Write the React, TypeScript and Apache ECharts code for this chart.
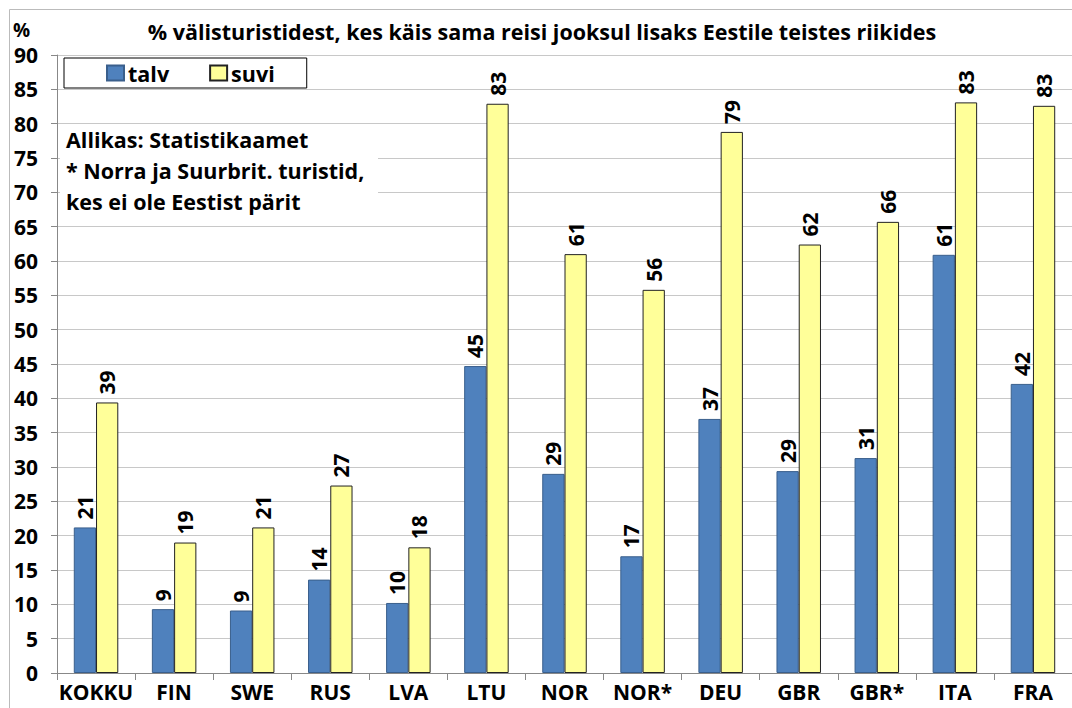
import React, { useEffect, useRef } from "react";
import * as echarts from "echarts";

const categories = ["KOKKU", "FIN", "SWE", "RUS", "LVA", "LTU", "NOR", "NOR*", "DEU", "GBR", "GBR*", "ITA", "FRA"];
const talv = [21.2, 9.3, 9.1, 13.6, 10.2, 44.7, 29.0, 17.0, 37.0, 29.4, 31.3, 60.9, 42.1];
const suvi = [39.4, 19.0, 21.2, 27.3, 18.3, 82.9, 61.0, 55.8, 78.8, 62.4, 65.7, 83.1, 82.6];
const seriesNames = ["talv", "suvi"];
const titleText = "% välisturistidest, kes käis sama reisi jooksul lisaks Eestile teistes riikides";
const noteLines = ["Allikas: Statistikaamet", "* Norra ja Suurbrit. turistid,", "kes ei ole Eestist pärit"];

const FONT = "Open Sans";

export default function App() {
  const ref = useRef<HTMLDivElement>(null);
  useEffect(() => {
    if (!ref.current) return;
    const chart = echarts.init(ref.current, null, { renderer: "svg" });
    const labelCfg = {
      show: true,
      position: "top",
      rotate: 90,
      align: "left",
      verticalAlign: "middle",
      distance: 8,
      color: "#000",
      fontFamily: FONT,
      fontWeight: "bold",
      fontSize: 21,
      formatter: (p: any) => String(Math.round(p.value)),
    };
    chart.setOption({
      animation: false,
      backgroundColor: "#fff",
      textStyle: { fontFamily: FONT },
      title: {
        text: titleText,
        left: 537,
        textAlign: "center",
        top: 15,
        textStyle: { fontFamily: FONT, fontWeight: "bold", fontSize: 21.5, color: "#000" },
      },
      legend: {
        left: 64,
        top: 58,
        data: seriesNames,
        icon: "rect",
        itemWidth: 17,
        itemHeight: 15,
        itemGap: 40,
        padding: [3, 32, 3, 42],
        backgroundColor: "#fff",
        borderColor: "#000",
        borderWidth: 1,
        borderRadius: 0,
        textStyle: { fontFamily: FONT, fontWeight: "bold", fontSize: 21.5, color: "#000", padding: [0, 0, 0, -1], lineHeight: 24 },
      },
      grid: { left: 57, top: 55, width: 1027, height: 618, containLabel: false },
      xAxis: {
        type: "category",
        data: categories,
        axisLine: { show: true, lineStyle: { color: "#888", width: 1 } },
        axisTick: { show: true, length: 7, lineStyle: { color: "#888" } },
        axisLabel: { interval: 0, color: "#000", fontFamily: FONT, fontWeight: "bold", fontSize: 21, lineHeight: 21, margin: 8 },
        splitLine: { show: false },
      },
      yAxis: {
        type: "value",
        min: 0,
        max: 90,
        interval: 5,
        axisLine: { show: true, lineStyle: { color: "#888", width: 1 } },
        axisTick: { show: true, length: 6, lineStyle: { color: "#888" } },
        axisLabel: { color: "#000", fontFamily: FONT, fontWeight: "bold", fontSize: 21, margin: 19 },
        splitLine: { show: true, lineStyle: { color: "#c8c8c8", width: 1 } },
      },
      graphic: [
        { type: "rect", shape: { x: 9.5, y: 9.5, width: 1080, height: 720 }, style: { fill: "none", stroke: "#bbb", lineWidth: 1 }, silent: true },
        { type: "text", x: 13, y: 20, style: { text: "%", fontFamily: FONT, fontWeight: "bold", fontSize: 19, fill: "#000" } },
        { type: "rect", shape: { x: 60, y: 127, width: 318, height: 96 }, style: { fill: "#fff" }, z: 10 },
        ...noteLines.map((t, i) => ({
          type: "text",
          x: 66,
          y: 128 + i * 31,
          z: 11,
          style: { text: t, fontFamily: FONT, fontWeight: "bold", fontSize: 21.5, fill: "#000" },
        })),
      ],
      series: [
        {
          name: seriesNames[0],
          type: "bar",
          data: talv,
          barGap: "0%",
          barCategoryGap: "43%",
          itemStyle: { color: "#4F81BD", borderColor: "#3a5f8c", borderWidth: 1 },
          label: labelCfg,
        },
        {
          name: seriesNames[1],
          type: "bar",
          data: suvi,
          barGap: "0%",
          barCategoryGap: "43%",
          itemStyle: { color: "#FFFF99", borderColor: "#222", borderWidth: 1 },
          label: labelCfg,
        },
      ],
    });
    return () => chart.dispose();
  }, []);
  return (
    <div
      ref={ref}
      style={{ position: "fixed", left: 0, top: 0, width: 1072, height: 708, background: "#fff" }}
    />
  );
}
